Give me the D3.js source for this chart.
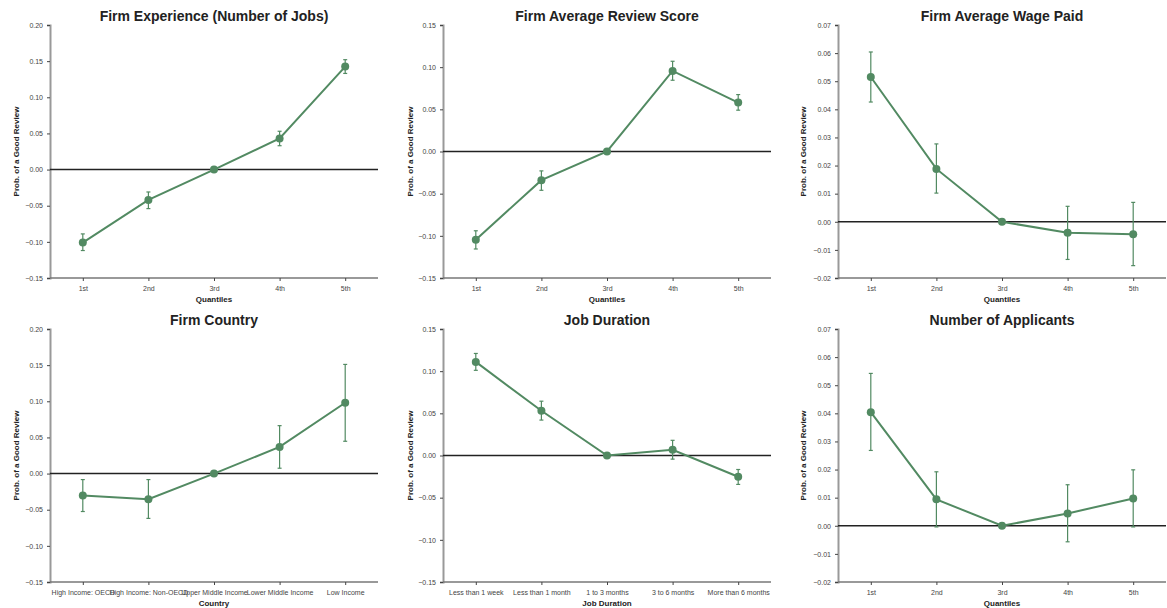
<!DOCTYPE html>
<html>
<head>
<meta charset="utf-8">
<script src="https://cdnjs.cloudflare.com/ajax/libs/d3/7.8.5/d3.min.js"></script>
<style>
  body { margin: 0; background: #fff; }
  text { font-family: "Liberation Sans", Arial, sans-serif; }
</style>
</head>
<body>
<script>
'use strict';

const quantiles = ["1st", "2nd", "3rd", "4th", "5th"]
const countries = ["High Income: OECD", "High Income: Non-OECD", "Upper Middle Income", "Lower Middle Income", "Low Income"]
const durations = ["Less than 1 week", "Less than 1 month", "1 to 3 months", "3 to 6 months", "More than 6 months"]

const titles = ["Firm Experience (Number of Jobs)", "Firm Average Review Score", "Firm Average Wage Paid",
                "Firm Country", "Job Duration", "Number of Applicants"]
const xLabels = ["Quantiles", "Quantiles", "Quantiles", "Country", "Job Duration", "Quantiles"]
const yDomains = [[-0.15, 0.20], [-0.15, 0.15], [-0.02, 0.07], [-0.15, 0.20], [-0.15, 0.15], [-0.02, 0.07]]

// point estimates
const experienceVals = [-0.101, -0.042, 0, 0.043, 0.1425]
const reviewVals = [-0.1046, -0.034, 0, 0.0956, 0.058]
const wageVals = [0.0515, 0.0188, 0, -0.0039, -0.0044]
const countryVals = [-0.0304, -0.0354, 0, 0.0369, 0.098]
const durationVals = [0.111, 0.053, 0, 0.0067, -0.0252]
const applicantVals = [0.0404, 0.0094, 0, 0.0044, 0.0097]

// confidence intervals [low, high]
const experienceCI = [[-0.112, -0.089], [-0.054, -0.031], [0, 0], [0.033, 0.053], [0.133, 0.152]]
const reviewCI = [[-0.1156, -0.094], [-0.046, -0.023], [0, 0], [0.0845, 0.107], [0.049, 0.0675]]
const wageCI = [[0.0426, 0.0604], [0.0102, 0.0277], [0, 0], [-0.0134, 0.0055], [-0.0156, 0.0069]]
const countryCI = [[-0.0525, -0.0083], [-0.062, -0.0083], [0, 0], [0.0074, 0.0663], [0.0447, 0.151]]
const durationCI = [[0.101, 0.121], [0.042, 0.0644], [0, 0], [-0.0043, 0.018], [-0.0343, -0.0166]]
const applicantCI = [[0.0268, 0.0542], [-0.0004, 0.0192], [0, 0], [-0.0057, 0.0146], [-0.0004, 0.0199]]

const cats = [quantiles, quantiles, quantiles, countries, durations, quantiles]
const vals = [experienceVals, reviewVals, wageVals, countryVals, durationVals, applicantVals]
const cis = [experienceCI, reviewCI, wageCI, countryCI, durationCI, applicantCI]

const m = { width: 1167, height: 608 }
const green = "#528a62"
const lefts = [50, 443, 838]
const tops = [25, 329]
const pw = 328, ph = 253

const svg = d3.select('body').append('svg')
  .attr('width', m.width)
  .attr('height', m.height)

for (let i = 0; i < 6; i++) {
  const left = lefts[i % 3]
  const top = tops[Math.floor(i / 3)]
  drawPanel(i, left, top)
}

function drawPanel(i, left, top) {
  const g = svg.append('g').attr('transform', 'translate(' + left + ',' + top + ')')

  const x = d3.scalePoint().domain(cats[i]).range([0, pw]).padding(0.5)
  const y = d3.scaleLinear().domain(yDomains[i]).range([ph, 0])

  const yAxis = d3.axisLeft(y).tickValues(d3.range(yDomains[i][0], yDomains[i][1] + 1e-9, yDomains[i][1] > 0.1 ? 0.05 : 0.01))
    .tickSize(3).tickPadding(4)
    .tickFormat(d => (Math.abs(d) < 1e-9 ? 0 : d).toFixed(2).replace('-', '\u2212'))
  const ya = g.append('g').call(yAxis)
  ya.select('.domain').attr('stroke', '#999').attr('stroke-width', 2)
  ya.selectAll('.tick line').attr('stroke', '#444')
  ya.selectAll('.tick text').attr('fill', '#444').style('font-size', '7px')

  const xAxis = d3.axisBottom(x).tickSize(3).tickPadding(5)
  const xa = g.append('g').attr('transform', 'translate(0,' + ph + ')').call(xAxis)
  xa.select('.domain').attr('stroke', '#777').attr('stroke-width', 1.3).attr('d', 'M0,0H' + pw)
  xa.selectAll('.tick line').attr('stroke', '#444')
  xa.selectAll('.tick text').attr('fill', '#444').style('font-size', '7px')

  // zero reference line
  g.append('line')
    .attr('x1', 0).attr('x2', pw)
    .attr('y1', y(0)).attr('y2', y(0))
    .attr('stroke', '#222').attr('stroke-width', 1.5)

  const pts = cats[i].map((c, j) => ({ c: c, v: vals[i][j], lo: cis[i][j][0], hi: cis[i][j][1] }))

  // error bars
  const eb = g.append('g').selectAll('g').data(pts.filter(d => d.hi > d.lo)).enter().append('g')
    .attr('stroke', green).attr('stroke-width', 1.2)
  eb.append('line').attr('x1', d => x(d.c)).attr('x2', d => x(d.c)).attr('y1', d => y(d.lo)).attr('y2', d => y(d.hi))
  eb.append('line').attr('x1', d => x(d.c) - 2).attr('x2', d => x(d.c) + 2).attr('y1', d => y(d.lo)).attr('y2', d => y(d.lo))
  eb.append('line').attr('x1', d => x(d.c) - 2).attr('x2', d => x(d.c) + 2).attr('y1', d => y(d.hi)).attr('y2', d => y(d.hi))

  g.append('path').datum(pts)
    .attr('fill', 'none').attr('stroke', green).attr('stroke-width', 2)
    .attr('d', d3.line().x(d => x(d.c)).y(d => y(d.v)))

  g.selectAll('circle').data(pts).enter().append('circle')
    .attr('cx', d => x(d.c)).attr('cy', d => y(d.v)).attr('r', 4)
    .attr('fill', green)

  g.append('text')
    .attr('x', pw / 2).attr('y', -4)
    .attr('text-anchor', 'middle')
    .style('font-size', '14px').style('font-weight', 'bold').attr('fill', '#222')
    .text(titles[i])

  g.append('text')
    .attr('x', pw / 2).attr('y', ph + 24)
    .attr('text-anchor', 'middle')
    .style('font-size', '8px').style('font-weight', 'bold').attr('fill', '#222')
    .text(xLabels[i])

  g.append('text')
    .attr('transform', 'translate(' + (i % 3 === 0 ? -31 : (i % 3 === 1 ? -30 : -32)) + ',' + (ph / 2) + ')rotate(-90)')
    .attr('text-anchor', 'middle')
    .style('font-size', '8px').style('font-weight', 'bold').attr('fill', '#222')
    .text('Prob. of a Good Review')
}
</script>
</body>
</html>
